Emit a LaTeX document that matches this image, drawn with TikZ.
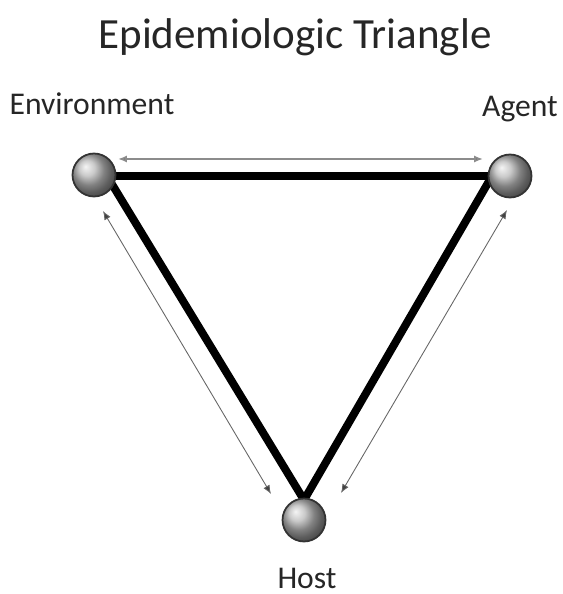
\documentclass[tikz,border=0pt]{standalone}
\usepackage{fontspec}
\setmainfont{Carlito}
\usetikzlibrary{positioning,arrows.meta}

\begin{document}
\begin{tikzpicture}[
  x=0.02cm, y=-0.02cm,
  corner/.style={circle,minimum size=0.86cm,inner sep=0pt,shading=ball,ball color=gray!55,draw=black!80,line width=1pt},
  side/.style={line width=4.5pt,black},
  link/.style={{Latex[length=5pt,width=4pt,fill=black!75]}-{Latex[length=5pt,width=4pt,fill=black!75]},black!60,line width=0.5pt},
  lbl/.style={font=\fontsize{18}{21}\selectfont,text=black!85}
]
\useasboundingbox (0,0) rectangle (563,594);
\node[font=\fontsize{24.5}{29}\selectfont,text=black!85] (title) at (295,37) {Epidemiologic Triangle};
% the three corners
\coordinate (E) at (107,176);
\coordinate (A) at (492,176);
\coordinate (H) at (304,500);
\draw[side] (E) -- (A) -- (H) -- cycle;
\node[corner] (env) at (94,175) {};
\node[corner] (agt) at (510,176) {};
\node[corner] (hst) at (304,520) {};
\node[lbl] (envl) at (92,104) {Environment};
\node[lbl] (agtl) at (520,109) {Agent};
\node[lbl] (hstl) at (307,578) {Host};
% interactions
\coordinate (ea) at (118,159);
\coordinate (ae) at (483,159);
\coordinate (eh1) at (103,211);
\coordinate (eh2) at (271,494);
\coordinate (ah1) at (507,210);
\coordinate (ah2) at (341,493);
\draw[link,black!45,line width=1.2pt] (ea) -- (ae);
\draw[link] (eh1) -- (eh2);
\draw[link] (ah1) -- (ah2);
\end{tikzpicture}
\end{document}
